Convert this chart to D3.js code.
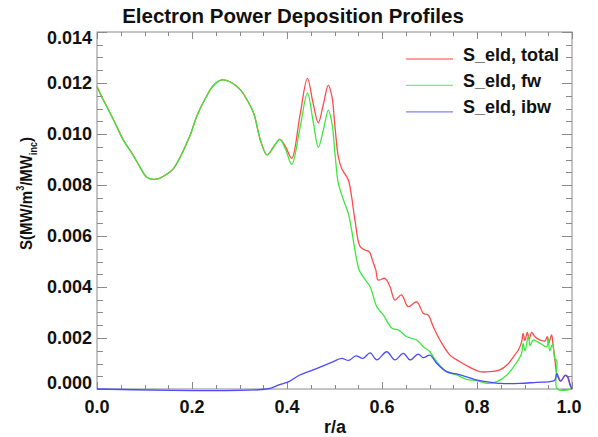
<!DOCTYPE html>
<html>
<head>
<meta charset="utf-8">
<script src="https://cdn.jsdelivr.net/npm/d3@7"></script>
<style>
  html, body { margin: 0; padding: 0; background: #fff; }
  svg { display: block; font-family: "Liberation Sans", Arial, Helvetica, sans-serif; }
</style>
</head>
<body>
<svg id="chart" width="598" height="437"></svg>
<script>
// Electron power deposition profiles vs normalized radius r/a

// fast-wave contribution
const fwR = [0, 0.004, 0.01, 0.02, 0.035, 0.0555, 0.075, 0.09, 0.105, 0.1185, 0.13, 0.145, 0.16, 0.195, 0.21, 0.23, 0.245, 0.2625, 0.28, 0.302, 0.32, 0.33, 0.345, 0.358, 0.372, 0.385, 0.397, 0.41, 0.427, 0.443, 0.455, 0.466, 0.477, 0.487, 0.4947, 0.501, 0.508, 0.519, 0.529, 0.536, 0.543, 0.552, 0.564, 0.575, 0.589, 0.603, 0.621, 0.635, 0.652, 0.673, 0.687, 0.701, 0.715, 0.736, 0.757, 0.778, 0.799, 0.821, 0.842, 0.863, 0.877, 0.887, 0.894, 0.897, 0.901, 0.908, 0.912, 0.918, 0.933, 0.947, 0.95, 0.953, 0.959, 0.964, 0.968, 0.969, 1.0];
const fwS = [0.01185, 0.0117, 0.01145, 0.0111, 0.01055, 0.00976, 0.0092, 0.00872, 0.0083, 0.00822, 0.00825, 0.0084, 0.00862, 0.0099, 0.0107, 0.01146, 0.0119, 0.01212, 0.01205, 0.01173, 0.0112, 0.01081, 0.0097, 0.00918, 0.0095, 0.00979, 0.0094, 0.00881, 0.0102, 0.0116, 0.0105, 0.00948, 0.0102, 0.01094, 0.01042, 0.00924, 0.00807, 0.00741, 0.00689, 0.00624, 0.00545, 0.00467, 0.0043, 0.00401, 0.00323, 0.0029, 0.00238, 0.00231, 0.00205, 0.00192, 0.00166, 0.00146, 0.00107, 0.00068, 0.00055, 0.00038, 0.00033, 0.00022, 0.00029, 0.00055, 0.00087, 0.00114, 0.0014, 0.00179, 0.0015, 0.00205, 0.0017, 0.00192, 0.00179, 0.00166, 0.00199, 0.0015, 0.00175, 0.0012, 0.0011, 0, 0];

// total (fw + ibw)
const totR = [0, 0.004, 0.01, 0.02, 0.035, 0.0555, 0.075, 0.09, 0.105, 0.1185, 0.13, 0.145, 0.16, 0.195, 0.21, 0.23, 0.245, 0.2625, 0.28, 0.302, 0.32, 0.33, 0.345, 0.358, 0.372, 0.385, 0.397, 0.41, 0.427, 0.443, 0.455, 0.466, 0.477, 0.487, 0.4947, 0.501, 0.508, 0.515, 0.529, 0.536, 0.543, 0.554, 0.564, 0.573, 0.582, 0.587, 0.592, 0.606, 0.617, 0.627, 0.641, 0.655, 0.673, 0.687, 0.697, 0.708, 0.722, 0.743, 0.764, 0.785, 0.806, 0.827, 0.848, 0.863, 0.877, 0.887, 0.894, 0.897, 0.901, 0.906, 0.91, 0.915, 0.922, 0.933, 0.943, 0.948, 0.951, 0.957, 0.96, 0.964, 0.968, 0.976, 0.985, 0.99, 0.995, 1.0];
const totS = [0.01185, 0.0117, 0.01145, 0.0111, 0.01055, 0.00976, 0.0092, 0.00872, 0.0083, 0.00822, 0.00825, 0.0084, 0.00862, 0.0099, 0.0107, 0.01146, 0.0119, 0.01212, 0.01205, 0.01173, 0.0112, 0.01081, 0.0097, 0.00918, 0.0095, 0.00979, 0.0095, 0.00905, 0.0107, 0.01218, 0.0112, 0.01044, 0.0112, 0.01192, 0.01146, 0.01029, 0.00911, 0.00865, 0.0082, 0.00754, 0.00663, 0.00558, 0.00545, 0.00538, 0.00493, 0.00467, 0.00427, 0.00434, 0.00401, 0.00349, 0.00369, 0.00323, 0.00342, 0.00297, 0.0029, 0.00244, 0.00192, 0.00133, 0.00107, 0.00085, 0.00068, 0.00068, 0.00075, 0.00094, 0.00127, 0.00153, 0.00185, 0.00218, 0.0019, 0.00222, 0.00195, 0.00222, 0.00205, 0.00192, 0.00188, 0.00205, 0.0018, 0.00212, 0.00175, 0.00114, 0.0006, 0.0003, 0.00052, 0.00048, 0.0002, 0];

// ion-Bernstein-wave contribution
const ibwR = [0, 0.357, 0.383, 0.404, 0.427, 0.455, 0.475, 0.495, 0.515, 0.53, 0.545, 0.56, 0.575, 0.589, 0.61, 0.627, 0.645, 0.659, 0.676, 0.687, 0.701, 0.715, 0.736, 0.757, 0.778, 0.8, 0.82, 0.85, 0.89, 0.925, 0.954, 0.964, 0.968, 0.976, 0.986, 0.991, 0.996, 1.0];
const ibwS = [0, 0, 0.00016, 0.00029, 0.00055, 0.00075, 0.0009, 0.00105, 0.0012, 0.00112, 0.0013, 0.0012, 0.00142, 0.00114, 0.00146, 0.00114, 0.0014, 0.00114, 0.00137, 0.00123, 0.00133, 0.00101, 0.00068, 0.00059, 0.00048, 0.00035, 0.00029, 0.00022, 0.00022, 0.00026, 0.00029, 0.00035, 0.0006, 0.00032, 0.00054, 0.00048, 0.00018, 0];

const seriesNames = ["S_eld, total", "S_eld, fw", "S_eld, ibw"];
const seriesColors = ["#ff4a4a", "#3ce83c", "#4a4aff"];
const xTicks = [0, 0.2, 0.4, 0.6, 0.8, 1.0];
const yTicks = [0, 0.002, 0.004, 0.006, 0.008, 0.010, 0.012, 0.014];

const svg = d3.select("#chart");
const W = 598, H = 437;
const m = { left: 97, right: 572, top: 32, bottom: 389 };

svg.append("rect").attr("width", W).attr("height", H).attr("fill", "#fff");

const x = d3.scaleLinear().domain([0, 1]).range([m.left, m.right]);
const y = d3.scaleLinear().domain([0, 0.014]).range([m.bottom, m.top]);

const axisColor = "#8a8a8a";
const xMinor = d3.range(0, 1.0001, 0.05);
const yMinor = d3.range(0, 0.01401, 0.0005);

// frame
svg.append("rect")
  .attr("x", m.left).attr("y", m.top)
  .attr("width", m.right - m.left).attr("height", m.bottom - m.top)
  .attr("fill", "none").attr("stroke", axisColor).attr("stroke-width", 1);

// inward ticks on all four sides
const isMajor = (v, step) => Math.abs(v / step - Math.round(v / step)) < 1e-6;
const tickG = svg.append("g").attr("stroke", axisColor).attr("stroke-width", 1);
xMinor.forEach(v => {
  const len = isMajor(v, 0.2) ? 7 : 4;
  const px = Math.round(x(v)) + 0.5;
  tickG.append("line").attr("x1", px).attr("x2", px).attr("y1", m.bottom).attr("y2", m.bottom - len);
  tickG.append("line").attr("x1", px).attr("x2", px).attr("y1", m.top).attr("y2", m.top + len);
});
yMinor.forEach(v => {
  const len = isMajor(v, 0.002) ? 10 : 6;
  const py = Math.round(y(v)) + 0.5;
  tickG.append("line").attr("x1", m.left).attr("x2", m.left + len).attr("y1", py).attr("y2", py);
  tickG.append("line").attr("x1", m.right).attr("x2", m.right - len).attr("y1", py).attr("y2", py);
});

// tick labels
const lab = svg.append("g").attr("font-weight", "bold").attr("font-size", 18).attr("fill", "#111");
xTicks.forEach(v => {
  lab.append("text")
    .attr("x", x(v) - (v === 1 ? 3 : 0)).attr("y", 413)
    .attr("text-anchor", "middle")
    .text(d3.format(".1f")(v));
});
yTicks.forEach((v, i) => {
  let shift = 0;
  if (i === yTicks.length - 1) shift = 6;
  if (i === 0) shift = -6;
  lab.append("text")
    .attr("x", 92).attr("y", y(v) + shift)
    .attr("dy", "0.36em")
    .attr("text-anchor", "end")
    .text(d3.format(".3f")(v));
});

// titles
svg.append("text")
  .attr("x", 293).attr("y", 23)
  .attr("text-anchor", "middle")
  .attr("font-weight", "bold").attr("font-size", 20.5).attr("fill", "#111")
  .text("Electron Power Deposition Profiles");

svg.append("text")
  .attr("x", 335).attr("y", 433)
  .attr("text-anchor", "middle")
  .attr("font-weight", "bold").attr("font-size", 18).attr("fill", "#111")
  .text("r/a");

const yl = svg.append("text")
  .attr("transform", "translate(32,193.5) rotate(-90) scale(1,1.15)")
  .attr("text-anchor", "middle")
  .attr("font-weight", "bold").attr("font-size", 15).attr("fill", "#111");
yl.append("tspan").text("S(MW/m");
yl.append("tspan").attr("font-size", 9).attr("dy", -7).text("3");
yl.append("tspan").attr("dy", 7).text("/MW");
yl.append("tspan").attr("font-size", 9).attr("dy", 4).text("inc");
yl.append("tspan").attr("dy", -4).text(")");

// curves
const line = d3.line()
  .x(d => x(d[0]))
  .y(d => y(d[1]))
  .curve(d3.curveCatmullRom.alpha(0.5));

const series = [
  d3.zip(totR, totS),
  d3.zip(fwR, fwS),
  d3.zip(ibwR, ibwS)
];

series.forEach((pts, i) => {
  svg.append("path")
    .datum(pts)
    .attr("d", line)
    .attr("fill", "none")
    .attr("stroke", seriesColors[i])
    .attr("stroke-width", 1.3)
    .attr("stroke-linejoin", "round");
});

// legend
const leg = svg.append("g");
seriesNames.forEach((name, i) => {
  const ly = 59 + i * 26.4;
  leg.append("line")
    .attr("x1", 406).attr("x2", 453)
    .attr("y1", ly).attr("y2", ly)
    .attr("stroke", seriesColors[i]).attr("stroke-width", 1.3).attr("opacity", 0.7);
  leg.append("text")
    .attr("x", 463).attr("y", ly + 1.5)
    .attr("font-weight", "bold").attr("font-size", 18).attr("fill", "#111")
    .text(name);
});
</script>
</body>
</html>
